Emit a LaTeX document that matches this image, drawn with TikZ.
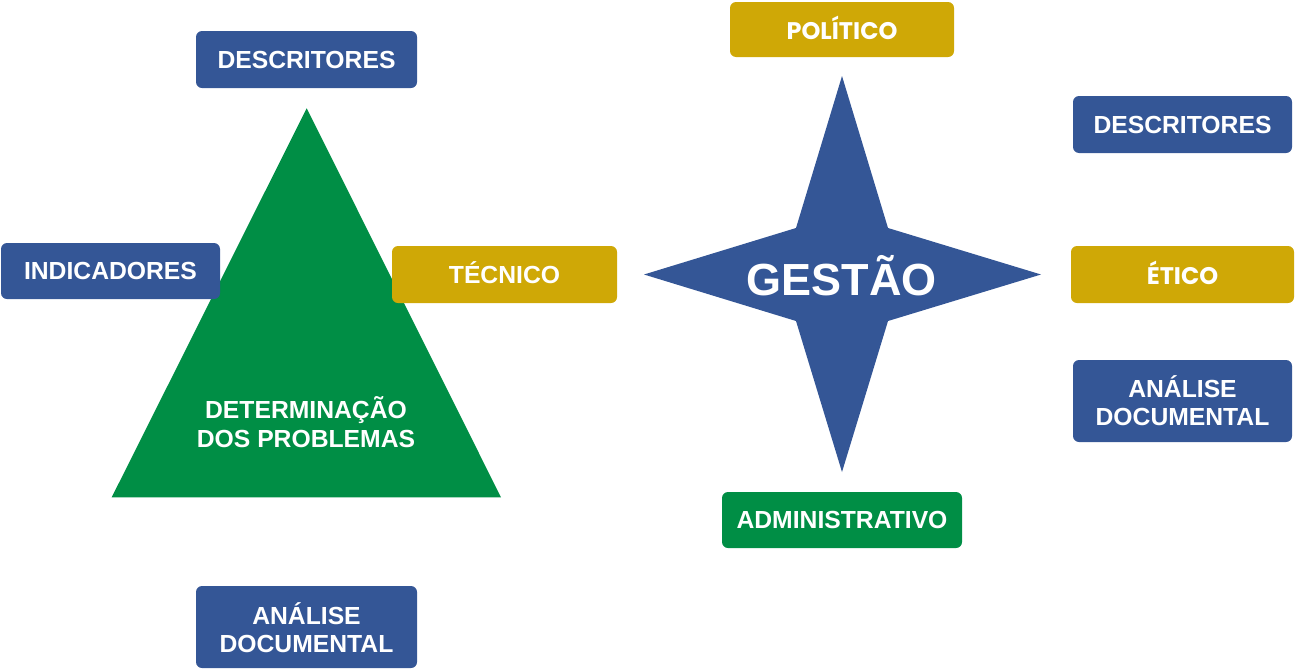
\documentclass[tikz,border=0pt]{standalone}
\usepackage{fontspec}
\setmainfont{Liberation Sans}
\newfontfamily\popp{Poppins}
\definecolor{cblue}{RGB}{52,86,150}
\definecolor{cgreen}{RGB}{0,142,69}
\definecolor{cgold}{RGB}{207,168,6}
\tikzset{
  boxbase/.style={rounded corners=6pt, inner sep=0pt, draw=none},
  bluebox/.style={boxbase, fill=cblue},
  goldbox/.style={boxbase, fill=cgold},
  greenbox/.style={boxbase, fill=cgreen},
  lbl/.style={text=white, inner sep=0pt, anchor=base, font=\fontsize{24.7}{28}\selectfont\bfseries},
  plbl/.style={text=white, inner sep=0pt, anchor=base, font=\fontsize{24}{28}\selectfont\popp\bfseries},
}
\begin{document}
\begin{tikzpicture}[x=1pt,y=-1pt]
\useasboundingbox (0,0) rectangle (1295,670);
% triangle
\fill[cgreen] (306.7,108.3) -- (501,497.3) -- (111.7,497.3) -- cycle;
% star
\fill[cblue] (842,76) -- (888,228) -- (1041,274.5) -- (888,321) -- (842,472)
  -- (796,321) -- (644,274.5) -- (796,228) -- cycle;
% boxes
\node[bluebox, minimum width=221pt, minimum height=57pt] (descL) at (306.5,59.5) {};
\node[bluebox, minimum width=219pt, minimum height=56pt] (indic) at (110.5,271) {};
\node[goldbox, minimum width=225pt, minimum height=57pt] (tecn) at (504.5,274.5) {};
\node[bluebox, minimum width=221pt, minimum height=82pt] (anL) at (306.5,627) {};
\node[goldbox, minimum width=224pt, minimum height=55pt] (polit) at (842,29.5) {};
\node[bluebox, minimum width=219pt, minimum height=57pt] (descR) at (1182.5,124.5) {};
\node[goldbox, minimum width=223pt, minimum height=57pt] (etico) at (1182.5,274.5) {};
\node[bluebox, minimum width=219pt, minimum height=82pt] (anR) at (1182.5,401) {};
\node[greenbox, minimum width=240pt, minimum height=56pt] (admin) at (842,520) {};
% texts
\node[lbl] (tdescL) at (306.5,68.3) {DESCRITORES};
\node[lbl] (tindic) at (110.5,279.8) {INDICADORES};
\node[lbl] (ttecn) at (504.5,283.3) {TÉCNICO};
\node[lbl] (tanL1) at (306.5,624) {ANÁLISE};
\node[lbl] (tanL2) at (306.5,652) {DOCUMENTAL};
\node[plbl] (tpolit) at (842,39) {POLÍTICO};
\node[lbl] (tdescR) at (1182.5,133.3) {DESCRITORES};
\node[plbl] (tetico) at (1182.5,284) {ÉTICO};
\node[lbl] (tanR1) at (1182.5,397.5) {ANÁLISE};
\node[lbl] (tanR2) at (1182.5,425) {DOCUMENTAL};
\node[lbl] (tadmin) at (842,528.8) {ADMINISTRATIVO};
\node[lbl] (tdet1) at (306,418) {DETERMINAÇÃO};
\node[lbl] (tdet2) at (306,447) {DOS PROBLEMAS};
\node[text=white, inner sep=0pt, anchor=base, font=\fontsize{45}{50}\selectfont\bfseries] (tgest) at (841.5,295) {GESTÃO};
\end{tikzpicture}
\end{document}
